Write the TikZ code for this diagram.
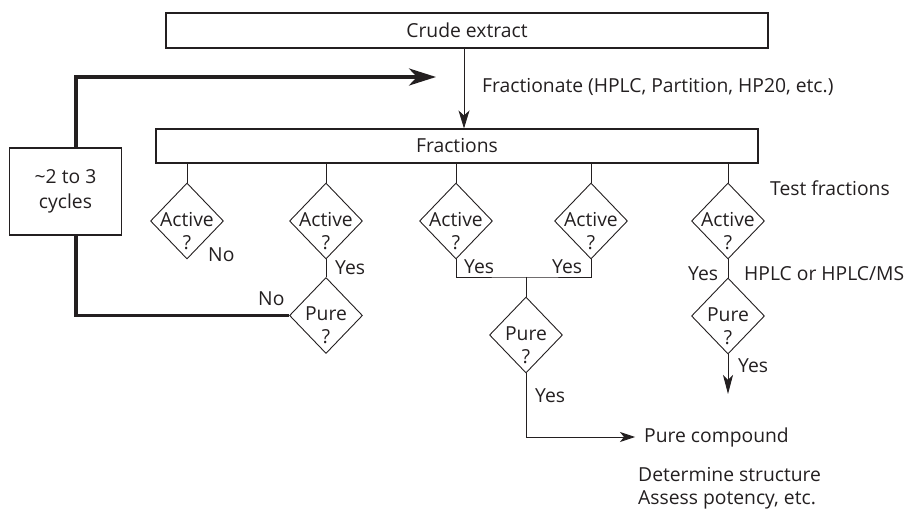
\documentclass[tikz,border=0pt]{standalone}
\usepackage{fontspec}
\setmainfont{Open Sans}
\usetikzlibrary{shapes.geometric,arrows.meta}
\definecolor{ink}{HTML}{231F20}
\begin{document}
\begin{tikzpicture}[x=1pt,y=-1pt,
  every node/.style={font=\fontsize{19.3}{23}\selectfont, text=ink},
  box/.style={draw=ink, line width=1.1pt, inner sep=0, rectangle},
  dia/.style={draw=ink, diamond, line width=0.9pt, minimum width=73pt, minimum height=76pt, inner sep=0},
  dtxt/.style={align=center, inner sep=0},
  lbl/.style={inner sep=0, anchor=west},
  thinl/.style={draw=ink, line width=0.9pt},
  thickl/.style={draw=ink, line width=3.6pt},
  ]
\useasboundingbox (0,0) rectangle (905,510);

% boxes
\node[box, minimum width=602pt, minimum height=35pt] (crude) at (467,30.5) {Crude extract};
\node[box, minimum width=602pt, minimum height=34pt] (frac) at (457,146) {Fractions};
\node[box, minimum width=112pt, minimum height=87pt, align=center, font=\fontsize{19.3}{25}\selectfont] (cyc) at (65.5,191.5) {\textasciitilde2 to 3\\cycles};

% diamonds
\node[dia] (a1) at (187,221) {};
\node[dia] (a2) at (326,221) {};
\node[dia] (a3) at (456,221) {};
\node[dia] (a4) at (591,221) {};
\node[dia] (a5) at (728,221) {};
\node[dia] (p1) at (326,315.5) {};
\node[dia] (p2) at (526,335) {};
\node[dia] (p3) at (728,316) {};

\foreach \d in {a1,a2,a3,a4,a5}{
  \node[dtxt] (\d t) at ([yshift=-10pt]\d.center) {Active\\?};
}
\foreach \d in {p1,p2,p3}{
  \node[dtxt] (\d t) at ([yshift=-10pt]\d.center) {Pure\\?};
}

% labels
\node[lbl] (frn) at (482,87) {Fractionate (HPLC, Partition, HP20, etc.)};
\node[lbl] (tf) at (770,188) {Test fractions};
\node[lbl] (no1) at (208,255) {No};
\node[lbl] (yes2) at (335,268) {Yes};
\node[lbl] (no2) at (258,299) {No};
\node[lbl] (yes3) at (464,267) {Yes};
\node[lbl] (yes4) at (552,267) {Yes};
\node[lbl] (yes5) at (688,274) {Yes};
\node[lbl] (hplc) at (744,274) {HPLC or HPLC/MS};
\node[lbl] (yesp2) at (535,396) {Yes};
\node[lbl] (yesp3) at (738,366) {Yes};
\node[lbl] (pc) at (644,437) {Pure compound};
\node[lbl] (ds) at (638,475) {Determine structure};
\node[lbl] (ap) at (638,500) {Assess potency, etc.};

\coordinate (loopend) at (436,77);
\coordinate (jn) at (526,277);
\coordinate (p3end) at (728,394);

% connectors
\draw[thinl, -{Stealth[length=18pt,width=11pt,inset=5pt]}] ([xshift=-3pt]crude.south) -- ([xshift=-3pt]crude.south |- frac.north);
\draw[thickl, -{Stealth[length=27pt,width=17pt,inset=8pt]}] ([xshift=10.5pt]cyc.north) |- (loopend);
\draw[thickl] ([xshift=10.5pt]cyc.south) |- (p1.west);
\foreach \d in {a1,a2,a3,a4,a5}{
  \draw[thinl] (\d.north |- frac.south) -- (\d.north);
}
\draw[thinl] (a2.south) -- (p1.north);
\draw[thinl] (a3.south) |- (jn) -| (a4.south);
\draw[thinl] (jn) -- (p2.north);
\draw[thinl, -{Stealth[length=15pt,width=10pt,inset=4pt]}] (p2.south) |- ([xshift=-9pt]pc.west);
\draw[thinl] (a5.south) -- (p3.north);
\draw[thinl, -{Stealth[length=19pt,width=10pt,inset=5pt]}] (p3.south) -- (p3end);
\end{tikzpicture}
\end{document}
